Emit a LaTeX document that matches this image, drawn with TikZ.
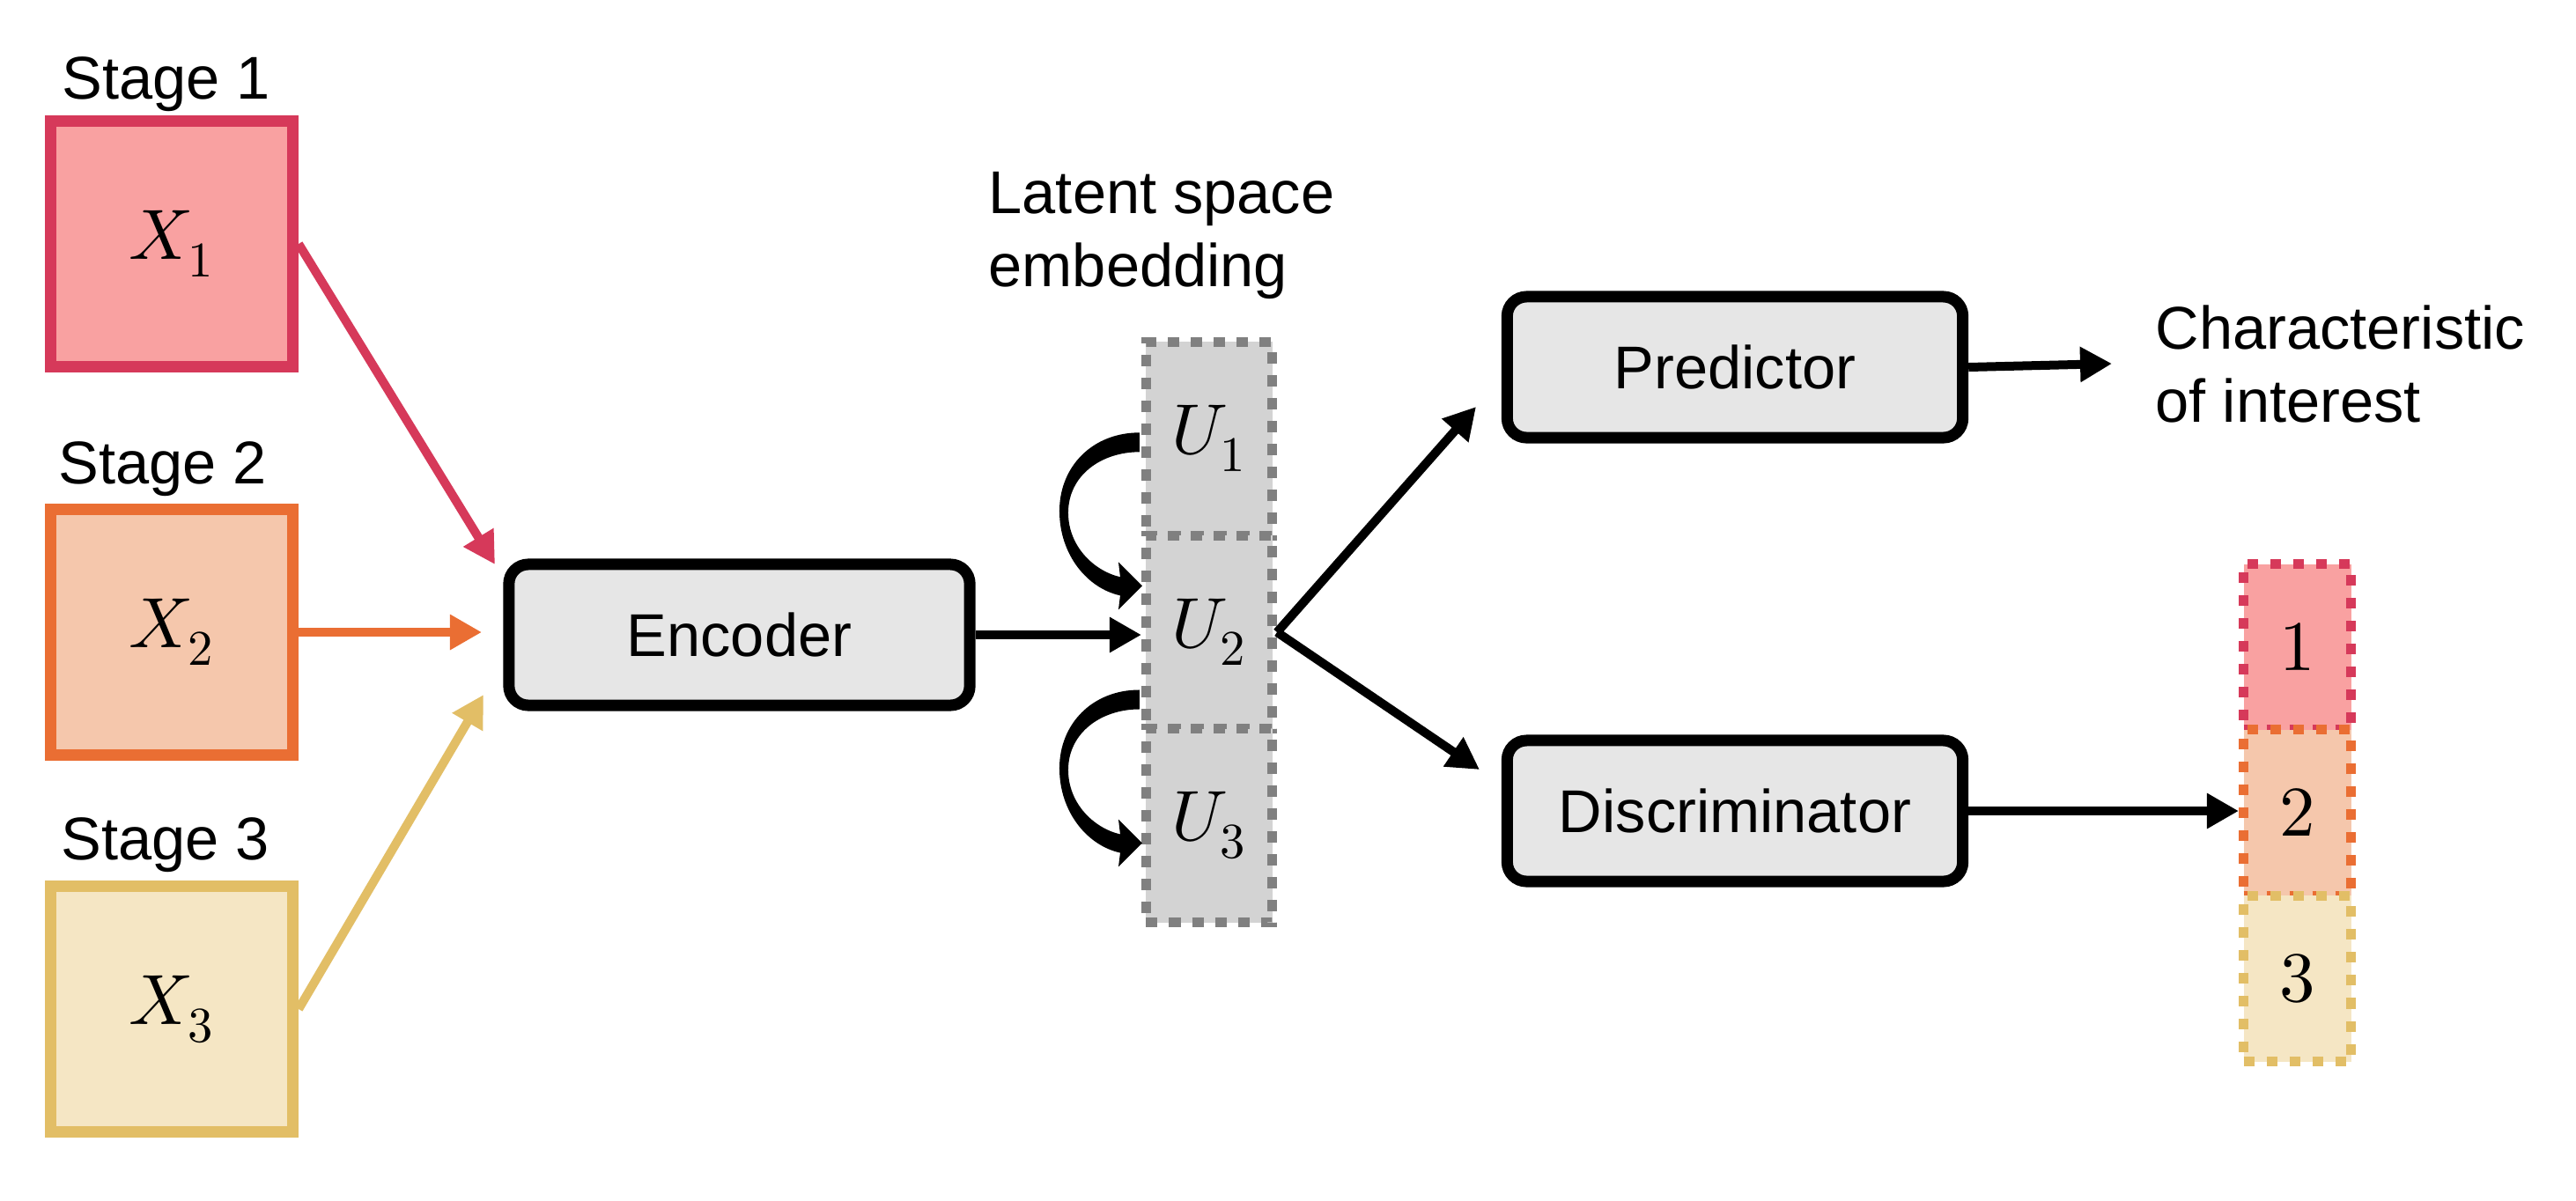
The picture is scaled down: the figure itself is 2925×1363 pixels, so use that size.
\documentclass[tikz,border=0pt]{standalone}
\usepackage{fontspec}
\usepackage{unicode-math}
\setmainfont{Liberation Sans}
\setmathfont{Latin Modern Math}
\usetikzlibrary{arrows.meta}
\definecolor{red1}{RGB}{214,57,90}
\definecolor{red2}{RGB}{249,161,161}
\definecolor{or1}{RGB}{234,110,51}
\definecolor{or2}{RGB}{245,199,172}
\definecolor{ye1}{RGB}{226,190,102}
\definecolor{ye2}{RGB}{245,230,196}
\definecolor{boxgray}{RGB}{230,230,230}
\definecolor{latfill}{RGB}{211,211,211}
\definecolor{latborder}{RGB}{128,128,128}
\tikzset{
  lab/.style={font=\fontsize{19.5}{23.6}\selectfont, inner sep=0pt},
  mathlab/.style={font=\fontsize{23}{27}\selectfont},
  stagebox/.style={draw, line width=0.13cm, minimum width=2.75cm, minimum height=2.78cm, inner sep=0pt, mathlab},
  rbox/.style={draw=black, fill=boxgray, line width=0.13cm, rounded corners=0.22cm, minimum height=1.60cm, inner sep=0pt, lab},
  latcell/.style={draw=latborder, fill=latfill, line width=0.11cm, dash pattern=on 0.13cm off 0.13cm, minimum width=1.43cm, minimum height=2.197cm, inner sep=0pt, mathlab},
  clscell/.style={line width=0.11cm, dash pattern=on 0.12cm off 0.14cm, minimum width=1.22cm, minimum height=1.883cm, inner sep=0pt, mathlab},
  arr/.style={line width=0.10cm, -{Triangle[length=0.36cm,width=0.38cm]}},
  curvearrow/.pic={
    \fill[black] (-2,-7) .. controls (-56,-7) and (-93,32) .. (-93,82)
      .. controls (-93,132) and (-61,170) .. (-24,178)
      -- (-26,194) -- (1,167) -- (-26,140) -- (-24,157)
      .. controls (-54,150) and (-83,122) .. (-83,84)
      .. controls (-83,42) and (-46,15) .. (-2,15) -- cycle;
  }
}
\begin{document}
\begin{tikzpicture}[x=0.01cm, y=-0.01cm]
\useasboundingbox[fill=white] (0,0) rectangle (2925,1363);

% stage boxes
\node[stagebox, draw=red1, fill=red2] (b1) at (195,277) {$X_1$};
\node[stagebox, draw=or1, fill=or2] (b2) at (195,718) {$X_2$};
\node[stagebox, draw=ye1, fill=ye2] (b3) at (195,1146) {$X_3$};
\node[lab, anchor=base] (s1) at (189,112) {Stage 1};
\node[lab, anchor=base] (s2) at (185,549) {Stage 2};
\node[lab, anchor=base] (s3) at (188,976) {Stage 3};

% encoder
\node[rbox, minimum width=5.23cm] (enc) at (839.5,721) {Encoder};
\coordinate (t1) at (562,641);
\coordinate (t2) at (547,718);
\coordinate (t3) at (549,789);
\draw[arr, draw=red1, fill=red1] (b1.east) -- (t1);
\draw[arr, draw=or1, fill=or1] (b2.east) -- (t2);
\draw[arr, draw=ye1, fill=ye1] (b3.east) -- (t3);

% latent cells
\node[latcell] (u1) at (1373,498.3) {$U_1$};
\node[latcell] (u2) at (1373,718) {$U_2$};
\node[latcell] (u3) at (1373,937.7) {$U_3$};
\node[lab, anchor=west, align=left] (lat) at (1122,268) {Latent space\\embedding};
\draw[arr] (enc.east) -- (enc.east -| u2.west);
\pic at (u1.west) {curvearrow};
\pic at ([yshift=-2.92cm]u1.west) {curvearrow};

% predictor / discriminator
\node[rbox, minimum width=5.17cm] (pred) at (1970,417) {Predictor};
\node[rbox, minimum width=5.17cm] (disc) at (1970,921) {Discriminator};
\coordinate (tp) at (1676,462);
\coordinate (td) at (1680,874);
\draw[arr] (u2.east) -- (tp);
\draw[arr] (u2.east) -- (td);

\node[lab, anchor=west, align=left] (chr) at (2447,413) {Characteristic\\of interest};
\coordinate (tc) at (2398,413);
\draw[arr] (pred.east) -- (tc);

% class cells
\node[clscell, draw=red1, fill=red2] (c1) at (2608.5,734.7) {$1$};
\node[clscell, draw=or1, fill=or2] (c2) at (2608.5,923) {$2$};
\node[clscell, draw=ye1, fill=ye2] (c3) at (2608.5,1111.3) {$3$};
\draw[arr] (disc.east) -- (disc.east -| c2.west);
\end{tikzpicture}
\end{document}
